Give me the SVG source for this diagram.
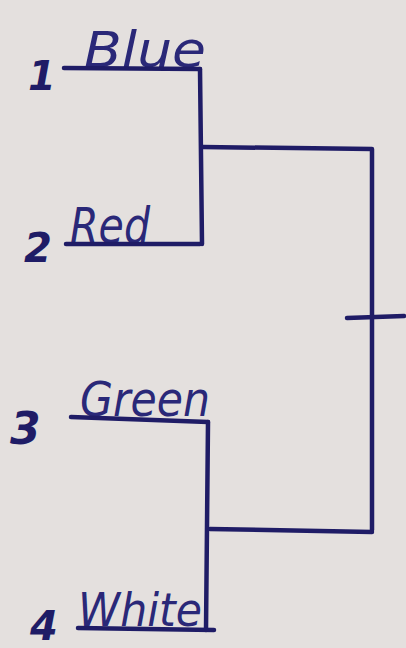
<svg xmlns="http://www.w3.org/2000/svg" width="406" height="648" viewBox="0 0 406 648">
<style>
.ink{fill:none;stroke:#1f1c66;stroke-width:4.5;stroke-linecap:round;stroke-linejoin:round}
.lbl{font-family:"DejaVu Sans","Liberation Sans",sans-serif;font-style:italic;fill:#2a2878}
.num{font-family:"DejaVu Sans","Liberation Sans",sans-serif;font-style:italic;font-weight:bold;fill:#1f1c66}
</style>
<rect width="406" height="648" fill="#e4e0de"/>
<g id="node-1">
<text class="num" x="28" y="90" font-size="40">1</text>
<text class="lbl" x="84" y="67" font-size="50" textLength="122" lengthAdjust="spacingAndGlyphs">Blue</text>
<path class="ink" d="M64 68 L200 69"/>
</g>
<g id="node-2">
<text class="num" x="24" y="262" font-size="40">2</text>
<text class="lbl" x="70" y="243" font-size="50" textLength="80" lengthAdjust="spacingAndGlyphs">Red</text>
<path class="ink" d="M66 244 L200 244"/>
</g>
<g id="node-3">
<text class="num" x="10" y="444" font-size="44">3</text>
<text class="lbl" x="80" y="416" font-size="48" textLength="130" lengthAdjust="spacingAndGlyphs">Green</text>
<path class="ink" d="M71 417 L208 422"/>
</g>
<g id="node-4">
<text class="num" x="30" y="640" font-size="40">4</text>
<text class="lbl" x="78" y="626" font-size="46" textLength="124" lengthAdjust="spacingAndGlyphs">White</text>
<path class="ink" d="M78 628 L214 630"/>
</g>
<g id="connectors">
<path class="ink" d="M200 69 L202 244"/>
<path class="ink" d="M203 147 L372 149 L372 530"/>
<path class="ink" d="M208 422 L206 630"/>
<path class="ink" d="M210 529 L372 532"/>
<path class="ink" d="M347 318 L404 316"/>
</g>
</svg>
